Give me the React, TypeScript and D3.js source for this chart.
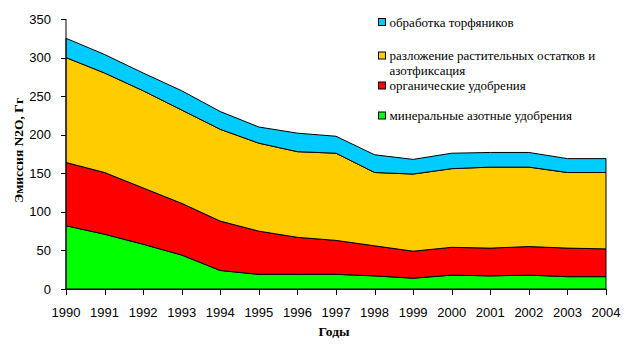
import React from "react";
import * as d3 from "d3";

const years = [1990, 1991, 1992, 1993, 1994, 1995, 1996, 1997, 1998, 1999, 2000, 2001, 2002, 2003, 2004];
const mineral = [82, 71, 58, 44, 24, 19, 19, 19, 17, 14, 18, 17, 18, 16, 16];
const organic = [82, 80, 73, 67, 64, 56, 48, 44, 39, 35, 36, 36, 37, 37, 36];
const residues = [136, 129, 126, 121, 119, 114, 111, 113, 95, 100, 102, 105, 103, 98, 99];
const peat = [25, 24, 23, 25, 23, 21, 24, 22, 23, 19, 20, 19, 19, 18, 18];
const yTicks = [0, 50, 100, 150, 200, 250, 300, 350];

const seriesKeys = ["mineral", "organic", "residues", "peat"];
const colors: Record<string, string> = {
  mineral: "#00FF00",
  organic: "#FF0000",
  residues: "#FFCC00",
  peat: "#00CCFF",
};

const legendItems = [
  { key: "peat", lines: ["обработка торфяников"], y: 22 },
  { key: "residues", lines: ["разложение растительных остатков и", "азотфиксация"], y: 55.5 },
  { key: "organic", lines: ["органические удобрения"], y: 85.5 },
  { key: "mineral", lines: ["минеральные азотные удобрения"], y: 115.5 },
];

export default function App() {
  const W = 639, H = 352;
  const x = d3.scaleLinear().domain([1990, 2004]).range([66, 606]);
  const y = d3.scaleLinear().domain([0, 350]).range([289, 19]);
  const table = years.map((yr, i) => ({
    year: yr,
    mineral: mineral[i],
    organic: organic[i],
    residues: residues[i],
    peat: peat[i],
  }));
  const stacked = d3.stack<any>().keys(seriesKeys)(table);
  const area = d3
    .area<any>()
    .x((d) => x(d.data.year))
    .y0((d) => y(d[0]))
    .y1((d) => y(d[1]));
  const serif = "'Liberation Serif', 'Times New Roman', serif";
  const sans = "'Liberation Sans', Arial, sans-serif";

  return (
    <svg width={W} height={H} style={{ position: "absolute", left: 0, top: 0, background: "#fff" }}>
      {stacked.map((s) => (
        <path key={s.key} d={area(s as any) || ""} fill={colors[s.key]} stroke="#000" strokeWidth={1} />
      ))}
      {/* Y axis */}
      <line x1={66} x2={66} y1={19} y2={289} stroke="#000" />
      {yTicks.map((t) => (
        <g key={t}>
          <line x1={61} x2={66} y1={Math.round(y(t)) + 0.5} y2={Math.round(y(t)) + 0.5} stroke="#000" />
          <text x={51} y={y(t) + 4.5} textAnchor="end" fontFamily={sans} fontSize={13}>
            {t}
          </text>
        </g>
      ))}
      {/* X axis */}
      <line x1={66} x2={606} y1={289.5} y2={289.5} stroke="#000" />
      {years.map((yr) => (
        <g key={yr}>
          <line x1={Math.round(x(yr)) + 0.5} x2={Math.round(x(yr)) + 0.5} y1={289} y2={295} stroke="#000" />
          <text x={x(yr)} y={317} textAnchor="middle" fontFamily={sans} fontSize={13}>
            {yr}
          </text>
        </g>
      ))}
      <text x={334} y={336} textAnchor="middle" fontFamily={serif} fontSize={13.5} fontWeight="bold">
        Годы
      </text>
      <text
        transform="translate(23,150.5) rotate(-90)"
        textAnchor="middle"
        fontFamily={serif}
        fontSize={13.5}
        fontWeight="bold"
      >
        Эмиссия N2O, Гг
      </text>
      {legendItems.map((it) => (
        <g key={it.key}>
          <rect x={378.5} y={it.y - 3.5} width={7} height={7} fill={colors[it.key]} stroke="#000" />
          {it.lines.map((ln, j) => (
            <text key={j} x={389.5} y={it.y + 4.5 + j * 15} fontFamily={serif} fontSize={13}>
              {ln}
            </text>
          ))}
        </g>
      ))}
    </svg>
  );
}
